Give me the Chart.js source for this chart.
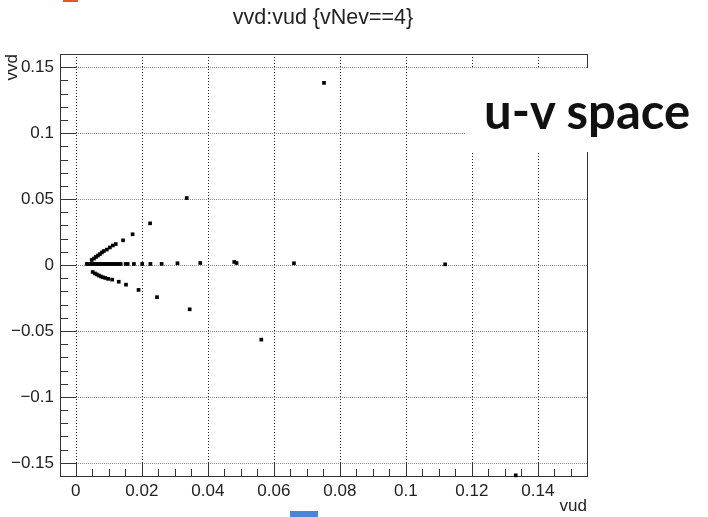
<!DOCTYPE html>
<html>
<head>
<meta charset="utf-8">
<script src="https://cdn.jsdelivr.net/npm/chart.js@4.4.1/dist/chart.umd.min.js"></script>
<style>
  html, body { margin: 0; padding: 0; background: #fff; }
  #wrap { position: relative; width: 708px; height: 517px; overflow: hidden; }
  #chart { position: absolute; left: 0; top: 0; }
  #title {
    position: absolute; left: 0; top: 4px; width: 646px; text-align: center;
    font-family: "Liberation Sans", sans-serif; font-size: 21.5px; color: #222;
    line-height: 26px; white-space: nowrap;
  }
  #uv {
    position: absolute; left: 466px; top: 68px; width: 242px; height: 84px;
    background: #fff; color: #111;
    font-family: "Lato", sans-serif; font-weight: 700; font-size: 49px;
    line-height: 84px; padding-left: 18px; box-sizing: border-box; white-space: nowrap;
  }
  #mark1 { position: absolute; left: 63px; top: 0; width: 15px; height: 2px; background: #e8561f; }
  #mark2 { position: absolute; left: 290px; top: 511px; width: 28px; height: 6px; background: #4a86d8; }
</style>
</head>
<body>
<div id="wrap">
  <canvas id="chart" width="708" height="517"></canvas>
  <div id="title">vvd:vud {vNev==4}</div>
  <div id="uv">u-v space</div>
  <div id="mark1"></div>
  <div id="mark2"></div>
</div>
<script>
// values (vud on x, vvd on y)
var vud = [
  // points along vvd ~ 0
  0.0033, 0.0039, 0.0045, 0.0052, 0.0058, 0.0064, 0.0070, 0.0076, 0.0082, 0.0088,
  0.0094, 0.0100, 0.0106, 0.0112, 0.0118, 0.0124, 0.0130, 0.0136, 0.0151, 0.0157,
  0.0176, 0.0201, 0.0226, 0.0260, 0.0308, 0.0377, 0.0480, 0.0487, 0.0661, 0.1119,
  // upper branch
  0.0048, 0.0055, 0.0061, 0.0067, 0.0073, 0.0079, 0.0085, 0.0094, 0.0103, 0.0112,
  0.0121, 0.0143, 0.0172, 0.0225, 0.0336, 0.0752,
  // lower branch
  0.0051, 0.0058, 0.0064, 0.0070, 0.0076, 0.0082, 0.0089, 0.0098, 0.0110, 0.0130,
  0.0152, 0.0190, 0.0246, 0.0345, 0.0562, 0.1333
];
var vvd = [
  0.0008, 0.0008, 0.0008, 0.0008, 0.0008, 0.0008, 0.0008, 0.0008, 0.0008, 0.0008,
  0.0008, 0.0008, 0.0008, 0.0008, 0.0008, 0.0008, 0.0008, 0.0008, 0.0008, 0.0008,
  0.0008, 0.0008, 0.0008, 0.0008, 0.0013, 0.0015, 0.0023, 0.0015, 0.0013, 0.0005,
  0.0038, 0.0049, 0.0061, 0.0072, 0.0083, 0.0095, 0.0106, 0.0117, 0.0133, 0.0148,
  0.0159, 0.0187, 0.0233, 0.0316, 0.0508, 0.1381,
  -0.0053, -0.0064, -0.0072, -0.0080, -0.0087, -0.0093, -0.0098, -0.0105, -0.0111, -0.0127,
  -0.0149, -0.0189, -0.0244, -0.0336, -0.0566, -0.1595
];

var xTicks = [0, 0.02, 0.04, 0.06, 0.08, 0.1, 0.12, 0.14];
var xTickLabels = ['0', '0.02', '0.04', '0.06', '0.08', '0.1', '0.12', '0.14'];
var yTicks = [-0.15, -0.1, -0.05, 0, 0.05, 0.1, 0.15];
var yTickLabels = ['\u22120.15', '\u22120.1', '\u22120.05', '0', '0.05', '0.1', '0.15'];

var points = vud.map(function (x, i) { return { x: x, y: vvd[i] }; });

// ROOT style: dotted grid, frame, inner major/minor ticks
var rootFrame = {
  id: 'rootFrame',
  beforeDatasetsDraw: function (chart) {
    var ctx = chart.ctx;
    var a = chart.chartArea;
    var xs = chart.scales.x, ys = chart.scales.y;
    var i, v, p, len;
    ctx.save();
    ctx.lineWidth = 1;

    // grid
    ctx.setLineDash([1, 1]);
    ctx.strokeStyle = '#8a8a8a';
    ctx.beginPath();
    yTicks.forEach(function (t) {
      p = Math.round(ys.getPixelForValue(t)) + 0.5;
      ctx.moveTo(a.left, p);
      ctx.lineTo(a.right, p);
    });
    ctx.stroke();
    ctx.setLineDash([1, 2]);
    ctx.strokeStyle = '#222';
    ctx.beginPath();
    xTicks.forEach(function (t) {
      p = Math.round(xs.getPixelForValue(t)) + 0.5;
      ctx.moveTo(p, a.top);
      ctx.lineTo(p, a.bottom);
    });
    ctx.stroke();
    ctx.setLineDash([]);

    // ticks
    ctx.strokeStyle = '#333';
    ctx.beginPath();
    for (i = -16; i <= 16; i++) {
      v = i / 100;
      p = Math.round(ys.getPixelForValue(v)) + 0.5;
      len = (i % 5 === 0) ? 16 : 8;
      ctx.moveTo(a.left, p);
      ctx.lineTo(a.left + len, p);
    }
    for (i = 0; i <= 31; i++) {
      v = i * 0.005;
      p = Math.round(xs.getPixelForValue(v)) + 0.5;
      len = (i % 4 === 0) ? 13 : 7;
      ctx.moveTo(p, a.bottom);
      ctx.lineTo(p, a.bottom - len);
    }
    ctx.stroke();

    // frame
    ctx.strokeRect(Math.round(a.left) + 0.5, Math.round(a.top) + 0.5,
      Math.round(a.right - a.left), Math.round(a.bottom - a.top));
    ctx.restore();
  }
};

var tickFont = { family: 'Liberation Sans', size: 17 };

new Chart(document.getElementById('chart'), {
  type: 'scatter',
  data: {
    datasets: [{
      data: points,
      pointStyle: 'rect',
      pointRadius: 2.6,
      pointBorderWidth: 0,
      backgroundColor: '#000',
      borderColor: '#000',
      clip: false
    }]
  },
  options: {
    responsive: false,
    animation: false,
    layout: { padding: { top: 54, right: 121, bottom: 0, left: 0 } },
    plugins: {
      legend: { display: false },
      tooltip: { enabled: false },
      title: { display: false }
    },
    scales: {
      x: {
        type: 'linear',
        min: -0.0048,
        max: 0.1549,
        afterFit: function (s) { s.height = 41; },
        afterBuildTicks: function (s) { s.ticks = xTicks.map(function (v) { return { value: v }; }); },
        ticks: {
          padding: 5,
          color: '#222',
          font: tickFont,
          maxRotation: 0,
          autoSkip: false,
          callback: function (v, i) { return xTickLabels[i]; }
        },
        grid: { display: false, drawTicks: false },
        border: { display: false },
        title: {
          display: true, text: 'vud', align: 'end', color: '#222',
          font: { family: 'Liberation Sans', size: 17 }, padding: 0
        }
      },
      y: {
        type: 'linear',
        min: -0.16,
        max: 0.16,
        afterFit: function (s) { s.width = 60; },
        afterBuildTicks: function (s) { s.ticks = yTicks.map(function (v) { return { value: v }; }); },
        ticks: {
          padding: 6,
          color: '#222',
          font: tickFont,
          autoSkip: false,
          callback: function (v, i) { return yTickLabels[i]; }
        },
        grid: { display: false, drawTicks: false },
        border: { display: false },
        title: {
          display: true, text: 'vvd', align: 'end', color: '#222',
          font: { family: 'Liberation Sans', size: 17 }, padding: { top: 2 }
        }
      }
    }
  },
  plugins: [rootFrame]
});
</script>
</body>
</html>
